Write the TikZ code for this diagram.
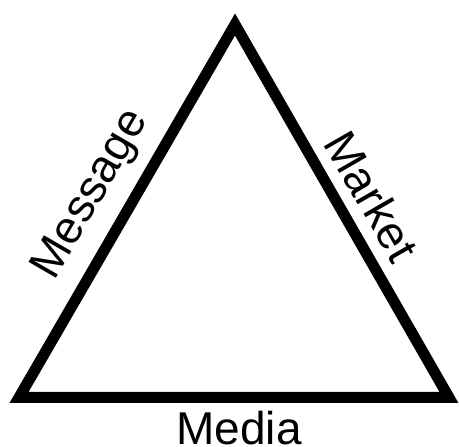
\documentclass[tikz,border=0pt]{standalone}
\usepackage{fontspec}
\setmainfont{Liberation Sans}
\begin{document}
\begin{tikzpicture}[x=1pt,y=1pt,
  side/.style={line width=11pt,line join=miter,draw=black},
  lbl/.style={inner sep=0pt,font=\fontsize{46}{46}\selectfont}]
\useasboundingbox (0,0) rectangle (459,447);
\coordinate (A) at (235,422.5);
\coordinate (B) at (19,49.5);
\coordinate (C) at (449,49.5);
\draw[side] (A) -- (B) -- (C) -- cycle;
\node[lbl,anchor=base] (media) at (239,2) {Media};
\node[lbl,rotate=59.9] (message) at (92,252) {Message};
\node[lbl,rotate=-60] (market) at (372,251) {Market};
\end{tikzpicture}
\end{document}
